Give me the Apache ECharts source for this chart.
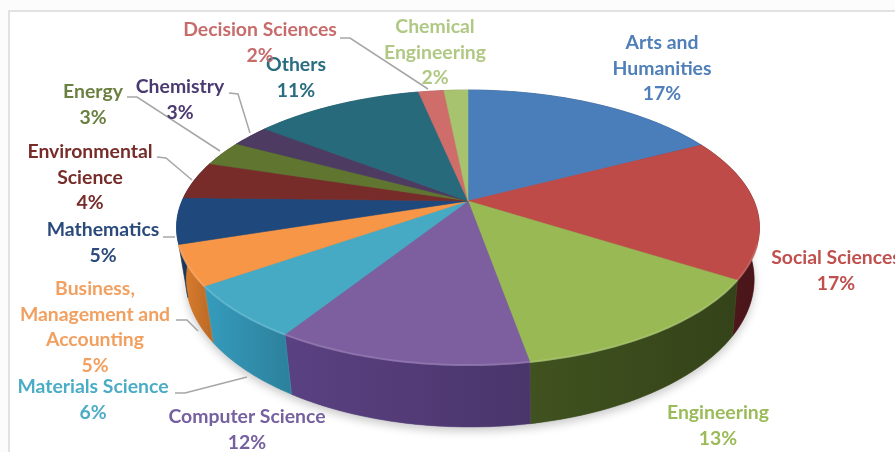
<!DOCTYPE html>
<html>
<head>
<meta charset="utf-8">
<style>
  html, body { margin: 0; padding: 0; background: #fcfcfc; }
  #frame { position: absolute; left: 8px; top: 10px; width: 887px; height: 442px; background: #fff;
           border-left: 2px solid #e2e2e2; border-top: 2px solid #e2e2e2; box-sizing: border-box; }
  #main { position: absolute; left: 0; top: 0; width: 895px; height: 452px; }
</style>
</head>
<body>
<div id="frame"></div>
<div id="main"></div>
<script src="https://cdn.jsdelivr.net/npm/echarts@6/dist/echarts.min.js"></script>
<script>
  // clockwise from 12 o'clock
  const categories = ['Arts and\nHumanities', 'Social Sciences', 'Engineering', 'Computer Science', 'Materials Science',
    'Business,\nManagement and\nAccounting', 'Mathematics', 'Environmental\nScience', 'Energy', 'Chemistry', 'Others',
    'Decision Sciences', 'Chemical\nEngineering']
  const shares = [17.4, 16.6, 13.2, 11.8, 6.3, 4.7, 5.4, 4.4, 3, 2.6, 11.3, 1.7, 1.6]

  const topColors = ['#4a7ebb', '#be4b48', '#98b954', '#7d5fa0', '#46aac5', '#f79646', '#1f497d', '#772c2a', '#5f7530', '#4d3b62', '#276a7c', '#cf6d6b', '#a8c36f']
  const wallColors = ['#2c4a70', '#571a1e', '#40521f', '#5a4182', '#369cbd', '#e0802e', '#1a3d66', '#571f1e', '#46561f', '#382b48', '#1c4e5c', '#96504e', '#7b8f50']
  const textColors = ['#4f7fb8', '#c0504d', '#9bbb59', '#7560a0', '#4bacc6', '#f2a060', '#2a4a7c', '#772c2a', '#6a8040', '#4a3a70', '#2a6c80', '#c86b6b', '#b0c884']

  // label centre x, first line y, then leader line
  const labelSpots = [
    { x: 662, y: 43 },
    { x: 836, y: 258 },
    { x: 718, y: 413 },
    { x: 247, y: 417 },
    { x: 93, y: 387, line: [[175, 393], [185, 393], [247, 377]] },
    { x: 95, y: 289, line: [[176, 320], [187, 320], [198, 331]] },
    { x: 103, y: 230, line: [[163, 237], [175, 237]] },
    { x: 90, y: 152, line: [[157, 157], [166, 158], [192, 180]] },
    { x: 93, y: 92, line: [[127, 97], [137, 97], [220, 151]] },
    { x: 180, y: 87, line: [[229, 93], [238, 94], [250, 133]] },
    { x: 296, y: 65 },
    { x: 260, y: 30, line: [[340, 38], [350, 38], [428, 89]] },
    { x: 435, y: 27 }
  ]

  const cx = 468, cy = 201, rx = 286, ry = 132.4, persp = 0.193
  const thickness = 50, bottomScale = 0.975, bottomShift = 2, lineHeight = 25.6

  const total = shares.reduce((a, b) => a + b, 0)
  const startAngles = []
  shares.reduce((sum, v, i) => { startAngles[i] = sum / total * Math.PI * 2; return sum + v }, 0)

  // circle seen in perspective, near side is bigger
  function topPoint(a) {
    const u = Math.sin(a), v = -Math.cos(a)
    const s = 1 / (1 - persp * v)
    return [cx + rx * u * s, cy + ry * v * s]
  }
  function bottomPoint(a) {
    const u = Math.sin(a), v = -Math.cos(a)
    const s = 1 / (1 - persp * v)
    return [cx + bottomShift + rx * u * s * bottomScale, cy + ry * v * s + thickness * s]
  }
  function arc(fn, a0, a1) {
    const pts = []
    const n = Math.max(2, Math.ceil((a1 - a0) / 0.02))
    for (let i = 0; i <= n; i++) pts.push(fn(a0 + (a1 - a0) * i / n))
    return pts
  }
  function sliceRange(i) {
    return [startAngles[i], startAngles[i] + shares[i] / total * Math.PI * 2]
  }

  function renderShadow() {
    return {
      type: 'polygon',
      shape: { points: arc(bottomPoint, 0, Math.PI * 2) },
      style: { fill: '#777', shadowBlur: 10, shadowColor: 'rgba(0,0,0,0.22)', shadowOffsetY: 4 }
    }
  }

  function renderWall(params) {
    const i = params.dataIndex
    const [a0, a1] = sliceRange(i)
    const pts = arc(topPoint, a0, a1).concat(arc(bottomPoint, a0, a1).reverse())
    const c = wallColors[i]
    return {
      type: 'polygon',
      shape: { points: pts },
      style: {
        stroke: c,
        lineWidth: 0.5,
        fill: {
          type: 'linear', x: 0, y: 0, x2: 1, y2: 0,
          colorStops: [
            { offset: 0, color: c },
            { offset: 1, color: echarts.color.lerp(0.18, [c, '#000']) }
          ]
        }
      }
    }
  }

  function renderTop(params) {
    const i = params.dataIndex
    const [a0, a1] = sliceRange(i)
    const rimStart = Math.max(a0, Math.PI * 0.6), rimEnd = Math.min(a1, Math.PI * 1.4)
    const children = [{
      type: 'polygon',
      shape: { points: [[cx, cy]].concat(arc(topPoint, a0, a1)) },
      style: { fill: topColors[i], stroke: topColors[i], lineWidth: 0.5 }
    }]
    // soft bevel along the front rim
    if (rimEnd > rimStart) {
      children.push({
        type: 'polyline',
        shape: { points: arc(topPoint, rimStart, rimEnd) },
        style: { fill: null, stroke: echarts.color.lerp(0.2, [topColors[i], '#fff']), lineWidth: 2, opacity: 0.7 }
      })
    }
    return { type: 'group', children: children }
  }

  function renderLabel(params) {
    const i = params.dataIndex
    const spot = labelSpots[i]
    const children = []
    if (spot.line) {
      children.push({
        type: 'polyline',
        shape: { points: spot.line },
        style: { fill: null, stroke: '#a6a6a6', lineWidth: 1.5 }
      })
    }
    children.push({
      type: 'text',
      style: {
        x: spot.x,
        y: spot.y - lineHeight / 2,
        text: categories[i] + '\n' + Math.round(shares[i]) + '%',
        fill: textColors[i],
        fontFamily: 'Lato',
        fontSize: 19.4,
        fontWeight: 'bold',
        lineHeight: lineHeight,
        align: 'center',
        verticalAlign: 'top'
      }
    })
    return { type: 'group', children: children }
  }

  const sliceData = shares.map((v, i) => [i, v])
  const chart = echarts.init(document.getElementById('main'))
  chart.setOption({
    animation: false,
    series: [
      { type: 'custom', coordinateSystem: 'none', z: 1, data: [[0]], renderItem: renderShadow, silent: true },
      { type: 'custom', coordinateSystem: 'none', z: 2, data: sliceData, renderItem: renderWall },
      { type: 'custom', coordinateSystem: 'none', z: 3, data: sliceData, renderItem: renderTop },
      { type: 'custom', coordinateSystem: 'none', z: 4, data: sliceData, renderItem: renderLabel }
    ]
  })
</script>
</body>
</html>
